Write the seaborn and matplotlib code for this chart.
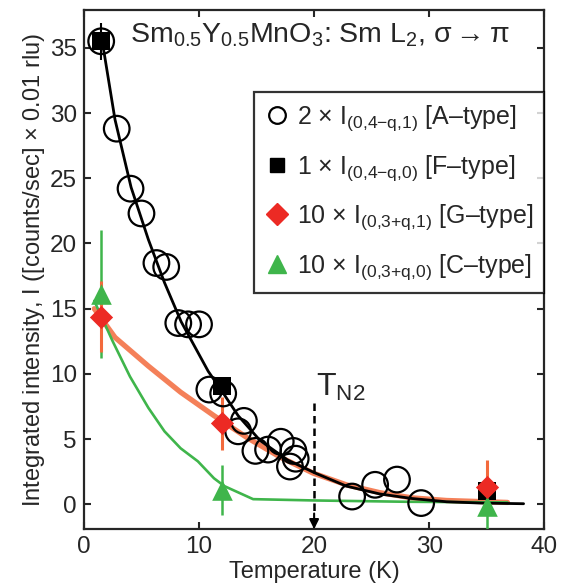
import matplotlib
matplotlib.use("Agg")
import matplotlib.pyplot as plt
import seaborn as sns
import pandas as pd
from matplotlib.lines import Line2D

# ---------------- data ----------------
T_A = [1.5, 2.85, 4.05, 5.0, 6.3, 7.15, 8.2, 9.05, 10.0, 10.9, 12.1, 13.4, 13.9,
       14.9, 16.0, 17.1, 17.9, 18.2, 18.4, 23.3, 25.3, 27.2, 29.3]
I_A = [35.5, 28.8, 24.2, 22.3, 18.5, 18.2, 13.9, 13.8, 13.8, 8.8, 8.5, 5.6, 6.4,
       4.1, 4.2, 4.8, 2.9, 4.1, 3.5, 0.6, 1.5, 1.9, 0.1]

T_F = [1.5, 12.0, 35.0]
I_F = [35.5, 9.1, 1.0]
E_F = [1.4, 0.0, 0.0]

T_G = [1.5, 12.0, 35.0]
I_G = [14.4, 6.2, 1.3]
E_G = [2.7, 2.0, 2.1]

T_C = [1.5, 12.0, 35.0]
I_C = [16.1, 1.1, -0.1]
E_C = [4.9, 1.9, 2.0]

fitA_T = [1.5, 2.7, 4.1, 5.6, 7.0, 8.45, 10.8, 11.9, 13.4, 15.3, 17.7, 20.1, 22.8,
          25.7, 28.5, 31.5, 34.5, 38.2]
fitA_I = [36.0, 29.5, 24.3, 20.3, 17.0, 14.0, 10.2, 8.8, 6.8, 4.9, 3.4, 2.4, 1.4,
          0.8, 0.45, 0.2, 0.1, 0.05]

fitG_T = [0.9, 2.7, 5.6, 8.4, 11.3, 14.2, 17.1, 19.9, 22.8, 25.7, 28.5, 31.5, 36.8]
fitG_I = [15.0, 12.8, 10.6, 8.6, 6.8, 5.1, 3.6, 2.4, 1.5, 0.9, 0.5, 0.3, 0.15]

fitC_T = [0.9, 2.5, 4.0, 5.6, 7.0, 8.4, 9.9, 11.3, 12.2, 14.7, 20.0, 28.0, 36.8]
fitC_I = [15.6, 12.5, 9.8, 7.4, 5.6, 4.3, 3.3, 2.0, 1.4, 0.4, 0.3, 0.2, 0.15]

legend_labels = [
    r"2 $\times$ $\mathrm{I}_{(0{,}4\mathrm{-}q{,}1)}$ [A–type]",
    r"1 $\times$ $\mathrm{I}_{(0{,}4\mathrm{-}q{,}0)}$ [F–type]",
    r"10 $\times$ $\mathrm{I}_{(0{,}3\mathrm{+}q{,}1)}$ [G–type]",
    r"10 $\times$ $\mathrm{I}_{(0{,}3\mathrm{+}q{,}0)}$ [C–type]",
]
title_text = r"$\mathrm{Sm_{0.5}Y_{0.5}MnO_3}$: Sm $\mathrm{L_2}$, $\sigma\rightarrow\pi$"
xlabel = "Temperature (K)"
ylabel = r"Integrated intensity, I ([counts/sec] $\times$ 0.01 rlu)"

# ---------------- style ----------------
sns.set_theme(style="ticks")
plt.rcParams["font.family"] = ["Liberation Sans", "DejaVu Sans"]
plt.rcParams["mathtext.fontset"] = "custom"
plt.rcParams["mathtext.rm"] = "Liberation Sans"
plt.rcParams["mathtext.it"] = "Liberation Sans"
plt.rcParams["mathtext.sf"] = "Liberation Sans"
plt.rcParams["axes.linewidth"] = 1.6

BLACK = "#000000"
RED = "#ec2a24"
ORANGE = "#f36a3c"
GREEN = "#3fb54b"

fig = plt.figure(figsize=(5.67, 5.86), dpi=100)
ax = fig.add_axes([0.148, 0.097, 0.812, 0.886])

# fit lines
sns.lineplot(x=fitG_T, y=fitG_I, ax=ax, color=ORANGE, lw=3.8, alpha=0.85,
             sort=False, estimator=None, zorder=2)
sns.lineplot(x=fitC_T, y=fitC_I, ax=ax, color=GREEN, lw=1.9,
             sort=False, estimator=None, zorder=2)
sns.lineplot(x=fitA_T, y=fitA_I, ax=ax, color=BLACK, lw=2.0,
             sort=False, estimator=None, zorder=3)

# error bars
ax.errorbar(T_F, I_F, yerr=E_F, fmt="none", ecolor=BLACK, elinewidth=1.5, zorder=4)
ax.errorbar(T_C, I_C, yerr=E_C, fmt="none", ecolor=GREEN, elinewidth=1.8, zorder=4)
ax.errorbar(T_G, I_G, yerr=E_G, fmt="none", ecolor=ORANGE, elinewidth=2.2, zorder=4)

# markers
dfA = pd.DataFrame({"T": T_A, "I": I_A})
sns.scatterplot(data=dfA, x="T", y="I", ax=ax, marker="o", s=340,
                facecolor="none", edgecolor=BLACK, linewidth=1.6, zorder=5)
sns.scatterplot(x=T_F, y=I_F, ax=ax, marker="s", s=150, color=BLACK,
                edgecolor=BLACK, linewidth=0, zorder=5)
sns.scatterplot(x=T_C, y=I_C, ax=ax, marker="^", s=220, color=GREEN,
                edgecolor=GREEN, linewidth=0, zorder=6)
sns.scatterplot(x=T_G, y=I_G, ax=ax, marker="D", s=140, color=RED,
                edgecolor=RED, linewidth=0, zorder=6)

ax.set_xlim(0, 40)
ax.set_ylim(-1.9, 37.9)
ax.set_xticks([0, 10, 20, 30, 40])
ax.set_yticks([0, 5, 10, 15, 20, 25, 30, 35])
ax.tick_params(direction="in", length=5, width=1.5, top=True, right=True,
               labelsize=17.5, pad=5)
ax.set_xlabel(xlabel, fontsize=17, labelpad=2)
ax.set_ylabel(ylabel, fontsize=17, labelpad=2)

# title inside the axes
ax.text(0.1, 0.952, title_text, transform=ax.transAxes, fontsize=20.5,
        ha="left", va="center")

# T_N2 marker
ax.plot([20, 20], [7.8, -0.6], ls=(0, (3, 2)), color=BLACK, lw=1.8, zorder=3)
ax.annotate("", xy=(20, -1.9), xytext=(20, -0.7),
            arrowprops=dict(arrowstyle="-|>", color=BLACK, lw=1.5,
                            mutation_scale=14, shrinkA=0, shrinkB=0))
ax.text(20.2, 7.8, r"$\mathrm{T_{N2}}$", fontsize=23, ha="left", va="bottom")

# legend
handles = [
    Line2D([], [], ls="none", marker="o", markersize=12, markerfacecolor="none",
           markeredgecolor=BLACK, markeredgewidth=1.6),
    Line2D([], [], ls="none", marker="s", markersize=10, color=BLACK),
    Line2D([], [], ls="none", marker="D", markersize=11, color=RED),
    Line2D([], [], ls="none", marker="^", markersize=13, color=GREEN),
]
leg = ax.legend(handles, legend_labels, loc="upper right",
                bbox_to_anchor=(1.0, 0.842), borderaxespad=0, frameon=True,
                fancybox=False, edgecolor=BLACK, fontsize=18, handletextpad=0.35,
                handlelength=0.9, labelspacing=0.8, borderpad=0.45)
leg.get_frame().set_linewidth(1.6)

fig.savefig("out.png", dpi=100)
